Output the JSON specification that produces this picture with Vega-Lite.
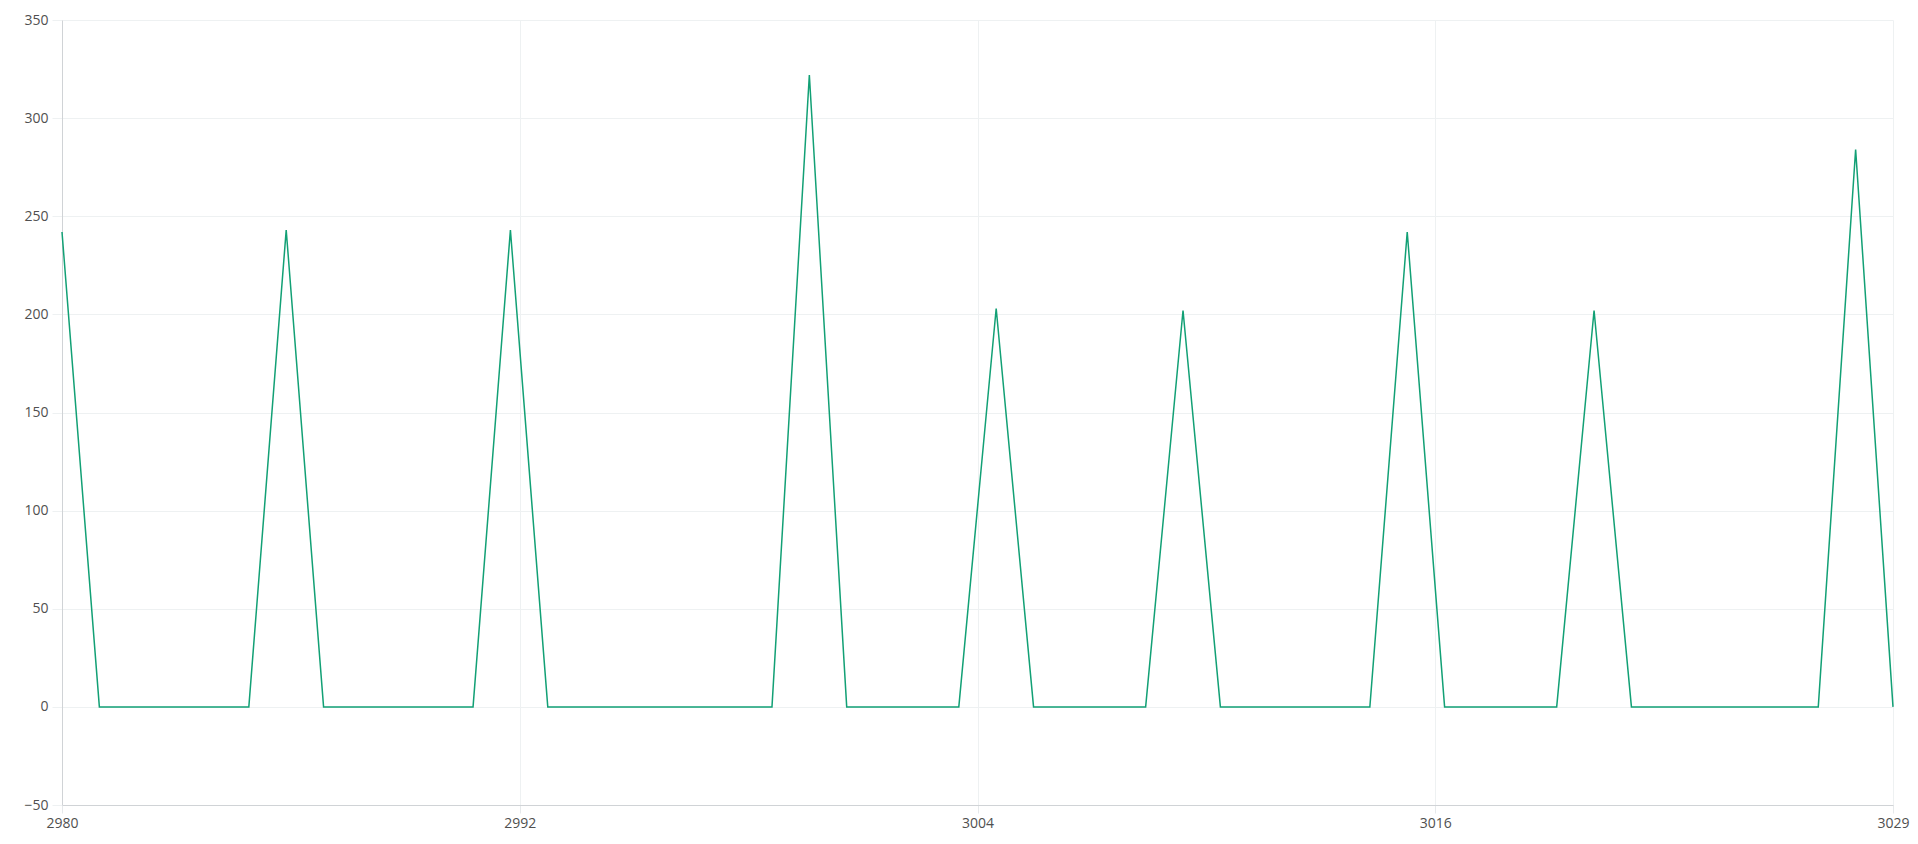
{
  "$schema": "https://vega.github.io/schema/vega-lite/v6.json",
  "autosize": "none",
  "width": 1831,
  "height": 785,
  "padding": {"left": 62, "top": 20, "right": 25, "bottom": 39},
  "background": "#ffffff",
  "config": {
    "view": {"stroke": null},
    "font": "Open Sans",
    "axis": {"labelFont": "Open Sans", "labelFontSize": 14, "labelColor": "#505050", "title": null}
  },
  "data": {"values": [
    {"x": 2980, "y": 242}, {"x": 2981, "y": 0}, {"x": 2982, "y": 0}, {"x": 2983, "y": 0}, {"x": 2984, "y": 0},
    {"x": 2985, "y": 0}, {"x": 2986, "y": 243}, {"x": 2987, "y": 0}, {"x": 2988, "y": 0}, {"x": 2989, "y": 0},
    {"x": 2990, "y": 0}, {"x": 2991, "y": 0}, {"x": 2992, "y": 243}, {"x": 2993, "y": 0}, {"x": 2994, "y": 0},
    {"x": 2995, "y": 0}, {"x": 2996, "y": 0}, {"x": 2997, "y": 0}, {"x": 2998, "y": 0}, {"x": 2999, "y": 0},
    {"x": 3000, "y": 322}, {"x": 3001, "y": 0}, {"x": 3002, "y": 0}, {"x": 3003, "y": 0}, {"x": 3004, "y": 0},
    {"x": 3005, "y": 203}, {"x": 3006, "y": 0}, {"x": 3007, "y": 0}, {"x": 3008, "y": 0}, {"x": 3009, "y": 0},
    {"x": 3010, "y": 202}, {"x": 3011, "y": 0}, {"x": 3012, "y": 0}, {"x": 3013, "y": 0}, {"x": 3014, "y": 0},
    {"x": 3015, "y": 0}, {"x": 3016, "y": 242}, {"x": 3017, "y": 0}, {"x": 3018, "y": 0}, {"x": 3019, "y": 0},
    {"x": 3020, "y": 0}, {"x": 3021, "y": 202}, {"x": 3022, "y": 0}, {"x": 3023, "y": 0}, {"x": 3024, "y": 0},
    {"x": 3025, "y": 0}, {"x": 3026, "y": 0}, {"x": 3027, "y": 0}, {"x": 3028, "y": 284}, {"x": 3029, "y": 0}
  ]},
  "mark": {"type": "line", "color": "#12a075", "strokeWidth": 1.5},
  "encoding": {
    "x": {
      "field": "x", "type": "quantitative",
      "scale": {"domain": [2980, 3029], "nice": false, "zero": false},
      "axis": {
        "values": [2980, 2992.25, 3004.5, 3016.75, 3029],
        "labelExpr": "floor(datum.value)",
        "grid": true, "gridColor": "#eef1f2",
        "domainColor": "#d0d3d6", "ticks": true, "tickSize": 8, "tickColor": "#e6e9eb",
        "labelPadding": 3, "labelFlush": false
      }
    },
    "y": {
      "field": "y", "type": "quantitative",
      "scale": {"domain": [-50, 350], "nice": false, "zero": false},
      "axis": {
        "values": [-50, 0, 50, 100, 150, 200, 250, 300, 350],
        "grid": true, "gridColor": "#eef1f2",
        "domainColor": "#d0d3d6", "ticks": true, "tickSize": 10, "tickColor": "#eef1f2",
        "labelPadding": 4
      }
    }
  }
}
